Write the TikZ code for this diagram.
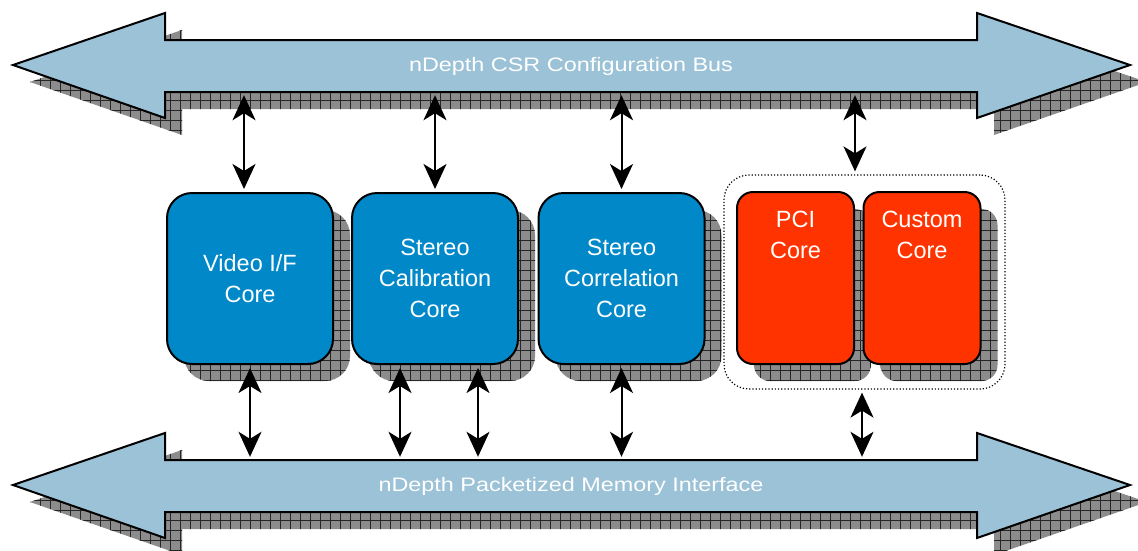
\documentclass[tikz,border=0pt]{standalone}
\usepackage{fontspec}
\setmainfont{Liberation Sans}
\usetikzlibrary{arrows.meta,patterns,positioning}

\definecolor{busblue}{RGB}{155,194,214}
\definecolor{coreblue}{RGB}{0,136,200}
\definecolor{corered}{RGB}{255,51,0}
\definecolor{shadowgray}{RGB}{140,140,140}

% grid used on the drop shadows
\pgfdeclarepatternformonly{shadowgrid}{\pgfqpoint{-1pt}{-1pt}}{\pgfqpoint{11pt}{11pt}}{\pgfqpoint{10pt}{10pt}}{
  \pgfsetlinewidth{0.6pt}
  \pgfpathmoveto{\pgfqpoint{0pt}{0pt}}\pgfpathlineto{\pgfqpoint{10pt}{0pt}}
  \pgfpathmoveto{\pgfqpoint{0pt}{0pt}}\pgfpathlineto{\pgfqpoint{0pt}{10pt}}
  \pgfusepath{stroke}}

\begin{document}
\begin{tikzpicture}[x=1pt,y=-1pt,>={Stealth[length=25pt,width=23pt,inset=7pt]},
    shadowed/.style={preaction={fill=shadowgray,transform canvas={xshift=17pt,yshift=-17pt}},
      preaction={pattern=shadowgrid,pattern color=black!85,transform canvas={xshift=17pt,yshift=-17pt}}},
    bus/.style={draw,line width=2pt,fill=busblue,line join=miter,shadowed},
    bus label/.style={text=white,font=\fontsize{19.5}{24}\selectfont,inner sep=0pt,
      minimum width=812pt,minimum height=52pt},
    core/.style={draw,line width=2pt,rounded corners=25pt,fill=coreblue,text=white,
      font=\fontsize{23.5}{31}\selectfont,align=center,inner sep=0pt,
      minimum width=166pt,minimum height=171pt,shadowed},
    red core/.style={core,fill=corered,rounded corners=16pt,minimum width=117pt,minimum height=172pt},
    core text/.style={text=white,font=\fontsize{23.5}{31}\selectfont,align=center,inner sep=0pt,anchor=north},
    group/.style={draw,dotted,line width=1.2pt,rounded corners=25pt,minimum width=281pt,minimum height=214pt},
    link/.style={<->,line width=2pt,shorten <=3pt,shorten >=3pt}]

\useasboundingbox (0,0) rectangle (1138,550);

% the two buses
\foreach \dy in {0,420}
  \draw[bus,shift={(0,\dy)}] (13,65) -- (165,13) -- (165,40) -- (977,40) -- (977,13) -- (1130,65)
    -- (977,118) -- (977,92) -- (165,92) -- (165,118) -- cycle;

\node[bus label] (csr) at (571,66) {\scalebox{1.2}[1]{nDepth CSR Configuration Bus}};
\node[bus label] (mem) at (571,486) {\scalebox{1.2}[1]{nDepth Packetized Memory Interface}};

% cores
\node[core] (video) at (250,278.5) {Video I/F\\Core};
\node[core] (calib) at (435,278.5) {Stereo\\Calibration\\Core};
\node[core] (correl) at (621.5,278.5) {Stereo\\Correlation\\Core};

\node[group] (pcigroup) at (864.5,282) {};
\node[red core] (pci) at (795.5,278) {};
\node[red core] (custom) at (922,278) {};
\node[core text] (pcitext) at ([yshift=-20pt]pci.north) {PCI\\Core};
\node[core text] (customtext) at ([yshift=-20pt]custom.north) {Custom\\Core};

% links to the CSR bus
\draw[link] ([xshift=-6pt]video.north) -- ([xshift=-6pt]video.north |- csr.south);
\draw[link] (calib.north) -- (calib.north |- csr.south);
\draw[link] (correl.north) -- (correl.north |- csr.south);
\draw[link] ([xshift=-9.5pt]pcigroup.north) -- ([xshift=-9.5pt]pcigroup.north |- csr.south);

% links to the memory interface
\draw[link] (video.south) -- (video.south |- mem.north);
\draw[link] ([xshift=-35pt]calib.south) -- ([xshift=-35pt]calib.south |- mem.north);
\draw[link] ([xshift=43pt]calib.south) -- ([xshift=43pt]calib.south |- mem.north);
\draw[link] (correl.south) -- (correl.south |- mem.north);
\draw[link] ([xshift=-2.5pt]pcigroup.south) -- ([xshift=-2.5pt]pcigroup.south |- mem.north);

\end{tikzpicture}
\end{document}
